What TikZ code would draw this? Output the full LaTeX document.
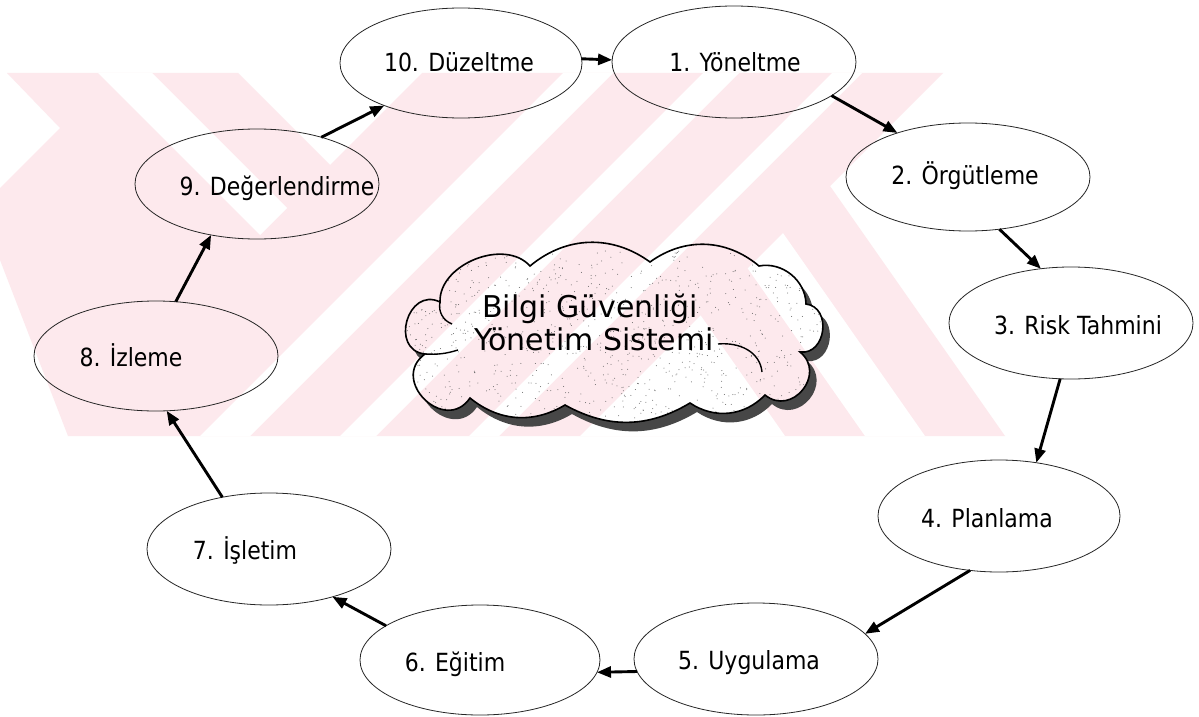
\documentclass[tikz,border=0pt]{standalone}
\usepackage{fontspec}
\setmainfont{DejaVu Sans}
\newfontfamily\lblfont[FakeStretch=0.88]{DejaVu Sans}
\usetikzlibrary{arrows.meta,shapes.geometric}
\definecolor{wm}{RGB}{253,233,237}
\begin{document}
\begin{tikzpicture}[x=1pt,y=-1pt,
  stage/.style={ellipse, draw=black!85, line width=0.8pt, inner sep=0pt, outer sep=0pt},
  lbl/.style={anchor=base, inner sep=0pt, font=\lblfont\fontsize{25}{28}\selectfont},
  ctext/.style={anchor=base, inner sep=0pt, font=\fontsize{30}{32}\selectfont},
  flow/.style={-{Triangle[length=14pt,width=11pt]}, line width=2.9pt},
]
\useasboundingbox (0,0) rectangle (1199,717);
\fill[white] (0,0) rectangle (1199,717);
% watermark
\fill[wm] (7,73) -- (238,73) -- (330,165) -- (422,73) -- (943,73) -- (830,186)
  -- (1005,436) -- (68,436) -- (0,260) -- (0,188) -- (60,128) -- cycle;
\fill[white] (98,73) -- (152,73) -- (287,208) -- (260,235) -- cycle;
\fill[white] (563,73) -- (613,73) -- (250,436) -- (200,436) -- cycle;
\fill[white] (703,73) -- (739,73) -- (376,436) -- (340,436) -- cycle;
\fill[white] (832,73) -- (862,73) -- (499,436) -- (469,436) -- cycle;
\fill[white] (580,436) -- (700.6,315.4) -- (785,436) -- cycle;
\fill[white] (747.7,268.4) -- (783,233.1) -- (925,436) -- (865,436) -- cycle;
% stages
\node[stage, minimum width=242pt, minimum height=110pt] (e10) at (461,63) {};
\node[stage, minimum width=244pt, minimum height=112pt] (e1) at (734,62) {};
\node[stage, minimum width=244pt, minimum height=108pt] (e2) at (968,177) {};
\node[stage, minimum width=244pt, minimum height=112pt] (e3) at (1071,323) {};
\node[stage, minimum width=242pt, minimum height=112pt] (e4) at (999,516) {};
\node[stage, minimum width=244pt, minimum height=112pt] (e5) at (756,659) {};
\node[stage, minimum width=240pt, minimum height=110pt] (e6) at (480,660) {};
\node[stage, minimum width=244pt, minimum height=112pt] (e7) at (269,549) {};
\node[stage, minimum width=244pt, minimum height=110pt] (e8) at (156,356) {};
\node[stage, minimum width=244pt, minimum height=110pt] (e9) at (257,184) {};
\node[lbl] (t10) at (459,71) {10. Düzeltme};
\node[lbl] (t1) at (735,71) {1. Yöneltme};
\node[lbl] (t2) at (965,184) {2. Örgütleme};
\node[lbl] (t3) at (1078,334) {3. Risk Tahmini};
\node[lbl] (t4) at (987,527) {4. Planlama};
\node[lbl] (t5) at (749,669) {5. Uygulama};
\node[lbl] (t6) at (455,671) {6. Eğitim};
\node[lbl] (t7) at (245,559) {7. İşletim};
\node[lbl] (t8) at (131,366) {8. İzleme};
\node[lbl] (t9) at (277,195) {9. Değerlendirme};
% cloud
\def\cloudpath{(470,398) to[bend left=100,looseness=1.8] (425,354) to[bend left=100,looseness=1.7] (440,302) to[bend left=70] (530,266) to[bend left=38] (650,262) to[bend left=38] (759,266) to[bend left=50] (806,304) to[bend left=90,looseness=1.4] (800,352) to[bend left=90,looseness=1.6] (765,395) to[bend left=40] (690,403) to[bend left=30] (565,405) to[bend left=35] (470,398) -- cycle}
\begin{scope}[even odd rule]
\clip (0,0) rectangle (1199,717) \cloudpath;
\fill[black!72, shift={(7,9)}] \cloudpath;
\end{scope}
\begin{scope}
\clip \cloudpath;
\pgfmathsetseed{42}
\foreach \i in {1,...,1000} { \fill[black!60] (613+215*rand, 336+85*rand) circle (0.5); }
\end{scope}
\draw[line width=1.6pt] \cloudpath;
\draw[line width=1.4pt] (440,302) to[bend right=40] (452,324);
\draw[line width=1.4pt] (425,354) to[bend right=10] (458,350);
\draw[line width=1.4pt] (718,344) .. controls (740,342) and (760,352) .. (762,372);
\node[ctext] (c1) at (590,317) {Bilgi Güvenliği};
\node[ctext] (c2) at (594,350) {Yönetim Sistemi};
% arrows
\draw[flow] (e10.2) -- (e1.179);
\draw[flow] (e1.-19) -- (e2.148);
\draw[flow] (e2.-59) -- (e3.119);
\draw[flow] (e3.-101) -- (e4.55);
\draw[flow] (e4.-118) -- (e5.13);
\draw[flow] (e5.186) -- (e6.-6);
\draw[flow] (e6.160) -- (e7.-37);
\draw[flow] (e7.132) -- (e8.-79);
\draw[flow] (e8.70) -- (e9.-132);
\draw[flow] (e9.36) -- (e10.-151);
\end{tikzpicture}
\end{document}
